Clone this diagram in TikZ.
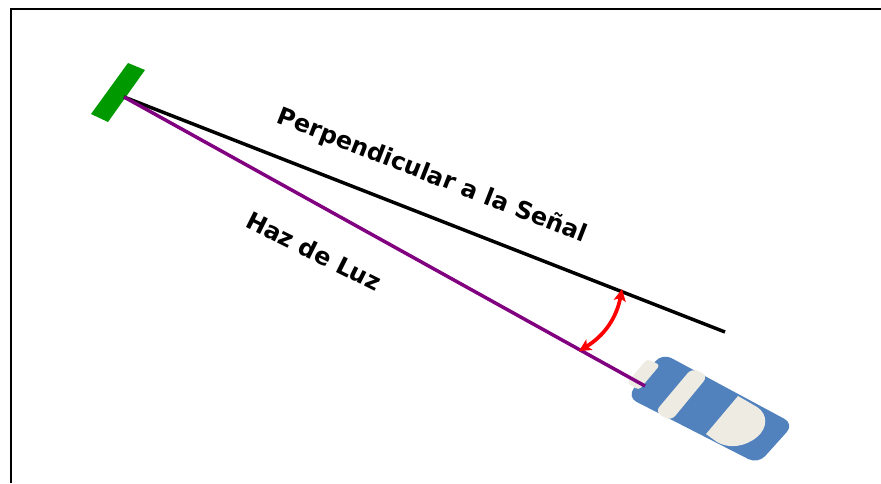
\documentclass[tikz,border=0pt]{standalone}
\usepackage{fontspec}
\setmainfont{DejaVu Sans}
\usetikzlibrary{arrows.meta}
\definecolor{mirrorgreen}{RGB}{0,153,0}
\definecolor{laserblue}{RGB}{81,130,189}
\definecolor{lasercream}{RGB}{238,235,226}
\definecolor{beampurple}{RGB}{128,0,128}
\begin{document}
\begin{tikzpicture}[
                x=0.75pt, y=-0.75pt,
                frameline/.style={draw=black,line width=1.5pt},
                ray/.style={line width=2.6pt},
                angle/.style={draw=red,line width=2.8pt,{Stealth[length=9pt,width=9pt,inset=2pt]}-{Stealth[length=9pt,width=9pt,inset=2pt]}},
                caption/.style={font=\bfseries\fontsize{18}{20}\selectfont,inner sep=0pt},
                part/.style={fill=lasercream,draw=none},
            ]
            \useasboundingbox (0,0) rectangle (881,483);

            % Define nodes
            \coordinate (corner) at (11,9);
            \coordinate (frameB) at (11,483);
            \coordinate (frameR) at (881,9);
            \coordinate (M) at (124,97);
            \coordinate (N) at (725,332);
            \coordinate (L) at (645,386);
            \coordinate (A0) at (622,289);
            \coordinate (A1) at (579,351);

            % Draw frame
            \draw[frameline] (frameB) -- (corner) -- (frameR);

            % Draw mirror and laser
            \fill[mirrorgreen] (128,63) -- (145,70) -- (108,122) -- (91,114) -- cycle;
            \fill[laserblue,rounded corners=8pt] (662,353) -- (794,424) -- (758,464) -- (627,397) -- cycle;
            \path[part,rounded corners=2.5pt] (647,359) -- (660,365) -- (639,390) -- (627,383) -- cycle;
            \path[part,rounded corners=5pt] (692,368) -- (708,376) -- (671,421) -- (655,412) -- cycle;
            \path[part] (738,396) -- (757,407) .. controls (768,414) and (768,428) .. (757,437)
                .. controls (745,447) and (729,449) .. (717,442) -- (706,434) -- cycle;

            % Draw connections
            \draw[ray,black] (M) -- (N);
            \draw[ray,beampurple] (M) -- (L);
            \draw[angle] (A0) to[bend left=24] (A1);

            % Draw labels
            \node[caption,rotate=-21.3] (perp) at (432,176) {Perpendicular a la Señal};
            \node[caption,rotate=-26.5] (beam) at (314,251) {Haz de Luz};

            \end{tikzpicture}
\end{document}
